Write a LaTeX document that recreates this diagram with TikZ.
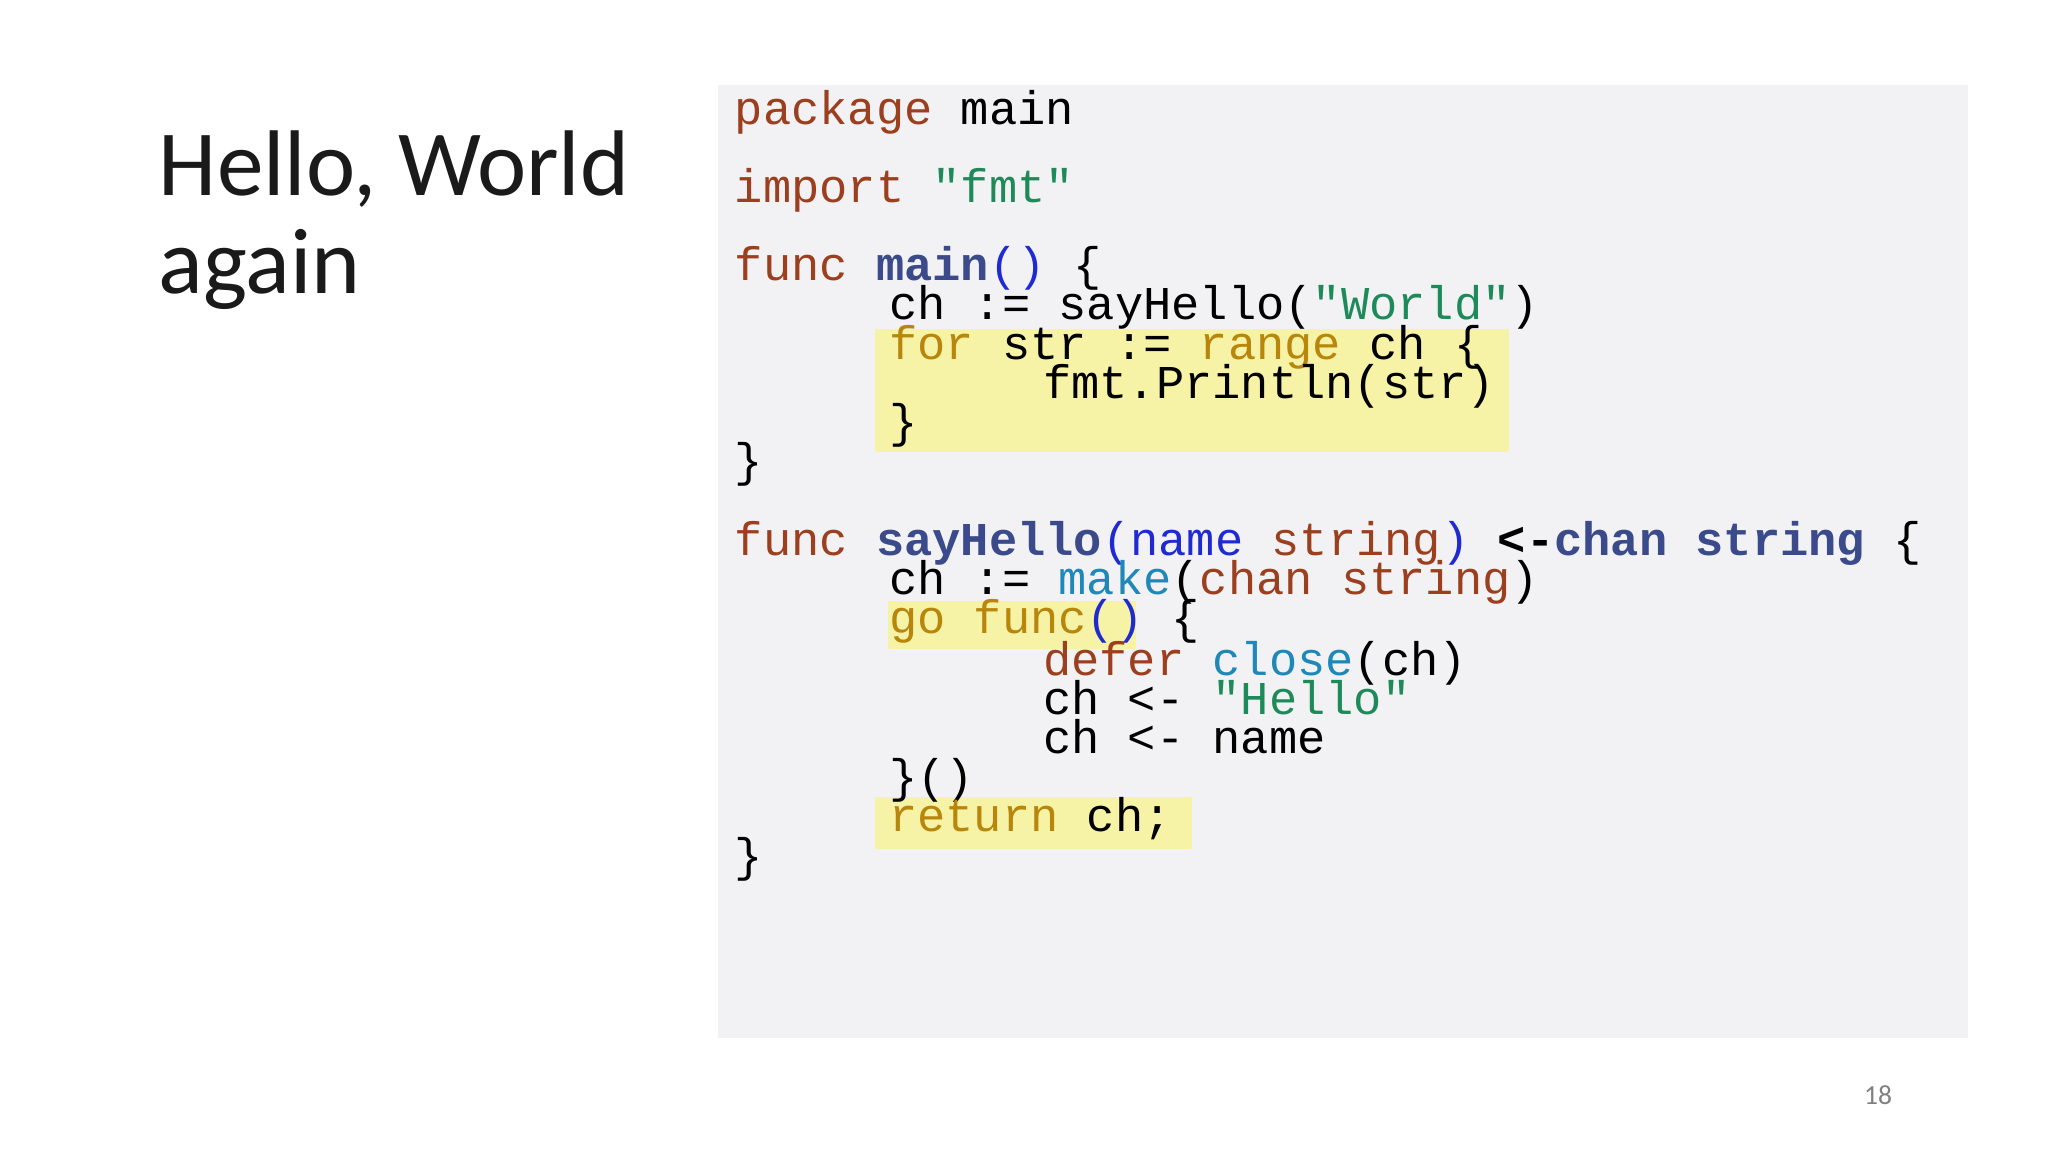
\documentclass[tikz,border=0pt]{standalone}
\usepackage{fontspec}
\setmainfont{Carlito}
\newfontfamily\codefont{Liberation Mono}
\definecolor{kw}{HTML}{9B3F1E}
\definecolor{strc}{HTML}{1E8A5A}
\definecolor{fnc}{HTML}{3A4A8A}
\definecolor{par}{HTML}{1F2BD0}
\definecolor{gold}{HTML}{B8860B}
\definecolor{bif}{HTML}{1E88B8}
\definecolor{bgbox}{HTML}{F2F2F4}
\definecolor{hl}{HTML}{F6F2A6}
\definecolor{titlec}{HTML}{1A1A1A}
\tikzset{code/.style={anchor=base west,inner sep=0pt,font=\codefont\fontsize{10.25}{12}\selectfont}}
\begin{document}
\begin{tikzpicture}[x=0.01cm,y=-0.01cm]
\useasboundingbox[fill=white] (0,0) rectangle (1568,882);
\fill[bgbox] (550,65) rectangle (1507,795);
\fill[hl] (670,252) rectangle (1155,346);
\fill[hl] (680,460) rectangle (870,497);
\fill[hl] (670,610) rectangle (913,650);
\node[anchor=base west,inner sep=0pt,text=titlec,font=\fontsize{20.3}{24}\selectfont] (t1) at (121,150) {Hello, World};
\node[anchor=base west,inner sep=0pt,text=titlec,font=\fontsize{20.3}{24}\selectfont] (t2) at (121,225) {again};
\node[code] (l1) at (562,95) {\textcolor{kw}{package} main};
\node[code] (l2) at (562,155) {\textcolor{kw}{import} \textcolor{strc}{"fmt"}};
\node[code] (l3) at (562,215) {\textcolor{kw}{func} \textcolor{fnc}{\bfseries main}\textcolor{par}{()} \{};
\node[code] (l4) at (680,245) {ch := sayHello(\textcolor{strc}{"World"})};
\node[code] (l5) at (680,275) {\textcolor{gold}{for} str := \textcolor{gold}{range} ch \{};
\node[code] (l6) at (798,305) {fmt.Println(str)};
\node[code] (l7) at (680,335) {\}};
\node[code] (l8) at (562,365) {\}};
\node[code] (l9) at (562,425) {\textcolor{kw}{func} \textcolor{fnc}{\bfseries sayHello}\textcolor{par}{(name} \textcolor{kw}{string}\textcolor{par}{)} {\bfseries<-}\textcolor{fnc}{\bfseries chan string} \{};
\node[code] (l10) at (680,455) {ch := \textcolor{bif}{make}(\textcolor{kw}{chan string})};
\node[code] (l11) at (680,485) {\textcolor{gold}{go func}\textcolor{par}{()} \{};
\node[code] (l12) at (798,517) {\textcolor{kw}{defer} \textcolor{bif}{close}(ch)};
\node[code] (l13) at (798,547) {ch <- \textcolor{strc}{"Hello"}};
\node[code] (l14) at (798,577) {ch <- name};
\node[code] (l15) at (680,607) {\}()};
\node[code] (l16) at (680,637) {\textcolor{gold}{return} ch;};
\node[code] (l17) at (562,667) {\}};
\node[anchor=base,inner sep=0pt,text=gray,font=\fontsize{6}{7}\selectfont] (pg) at (1438,846) {18};
\end{tikzpicture}
\end{document}
